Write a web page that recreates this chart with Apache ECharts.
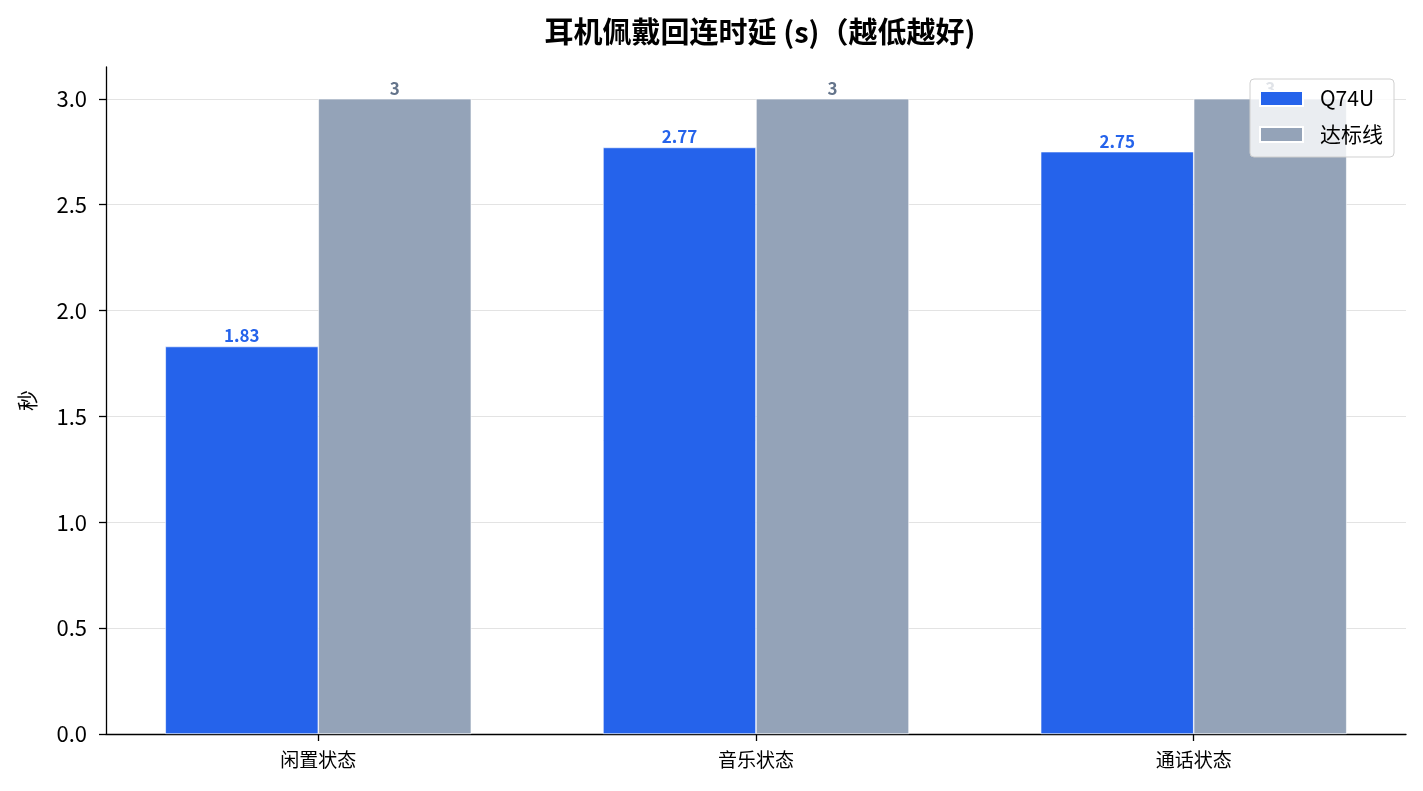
<!DOCTYPE html>
<html>
<head>
<meta charset="utf-8">
<title>耳机佩戴回连时延</title>
<script src="https://cdn.jsdelivr.net/npm/echarts@6/dist/echarts.min.js"></script>
<style>
  html, body { margin: 0; padding: 0; background: #fff; }
  #main { width: 1423px; height: 791px; }
</style>
</head>
<body>
<div id="main"></div>
<script>
// 数据
const categories = ['闲置状态', '音乐状态', '通话状态']
const q74uValues = [1.83, 2.77, 2.75]
const targetValues = [3, 3, 3]
const yTicks = [0, 0.5, 1.0, 1.5, 2.0, 2.5, 3.0]

const font = '"Noto Sans CJK SC", "Noto Sans", sans-serif'

// x 轴用数值轴, 类别放在 0,1,2 上
const toPoints = (arr) => arr.map((v, i) => [i, v])

const chart = echarts.init(document.getElementById('main'))

const option = {
  backgroundColor: '#fff',
  animation: false,
  title: {
    text: '耳机佩戴回连时延 (s)（越低越好)',
    left: 755,
    textAlign: 'center',
    top: 12,
    textStyle: { fontFamily: font, fontSize: 29, fontWeight: 'bold', color: '#000' }
  },
  legend: {
    orient: 'vertical',
    right: 29,
    top: 79,
    icon: 'rect',
    itemWidth: 43,
    itemHeight: 15,
    itemGap: 15,
    padding: [9, 11, 12, 9],
    backgroundColor: 'rgba(255,255,255,0.8)',
    borderColor: '#d0d0d0',
    borderWidth: 1,
    borderRadius: 4,
    textStyle: { fontFamily: font, fontSize: 21, color: '#000', padding: [0, 0, 0, 12] },
    data: ['Q74U', '达标线']
  },
  grid: { left: 106, right: 17, top: 67, bottom: 57 },
  xAxis: {
    type: 'value',
    min: -0.485,
    max: 2.485,
    axisLine: { lineStyle: { color: '#000', width: 1.3 } },
    axisTick: { show: true, length: 7, customValues: [0, 1, 2], lineStyle: { color: '#000', width: 1.3 } },
    axisLabel: {
      customValues: [0, 1, 2],
      formatter: (v) => categories[Math.round(v)],
      fontFamily: font, fontSize: 19, color: '#000', margin: 16
    },
    splitLine: { show: false }
  },
  yAxis: {
    type: 'value',
    min: 0,
    max: 3.15,
    interval: 0.5,
    name: '秒',
    nameLocation: 'middle',
    nameGap: 68,
    nameRotate: 90,
    nameTextStyle: { fontFamily: font, fontSize: 21, color: '#000' },
    axisLine: { show: true, onZero: false, lineStyle: { color: '#000', width: 1.3 } },
    axisTick: { show: true, length: 7, customValues: yTicks, lineStyle: { color: '#000', width: 1.3 } },
    axisLabel: {
      customValues: yTicks,
      formatter: (v) => v.toFixed(1),
      fontFamily: font, fontSize: 22, color: '#000', margin: 19
    },
    splitLine: {
      show: true,
      lineStyle: {
        color: ['#e3e3e3', '#e3e3e3', '#e3e3e3', '#e3e3e3', '#e3e3e3', '#e3e3e3', '#e3e3e3', 'rgba(0,0,0,0)'],
        width: 1.2
      }
    }
  },
  series: [
    {
      name: 'Q74U',
      type: 'bar',
      barWidth: 153,
      barGap: '0%',
      data: toPoints(q74uValues),
      itemStyle: { color: '#2563EB', borderColor: '#fff', borderWidth: 0.6 },
      label: {
        show: true, position: 'top', distance: 2,
        formatter: (p) => p.value[1],
        fontFamily: font, fontSize: 17, fontWeight: 'bold', color: '#2563EB'
      }
    },
    {
      name: '达标线',
      type: 'bar',
      barWidth: 153,
      barGap: '0%',
      data: toPoints(targetValues),
      itemStyle: { color: '#94A3B8', borderColor: '#fff', borderWidth: 0.6 },
      label: {
        show: true, position: 'top', distance: 2,
        formatter: (p) => p.value[1],
        fontFamily: font, fontSize: 17, fontWeight: 'bold', color: '#64748B'
      }
    }
  ]
}

chart.setOption(option)
</script>
</body>
</html>
